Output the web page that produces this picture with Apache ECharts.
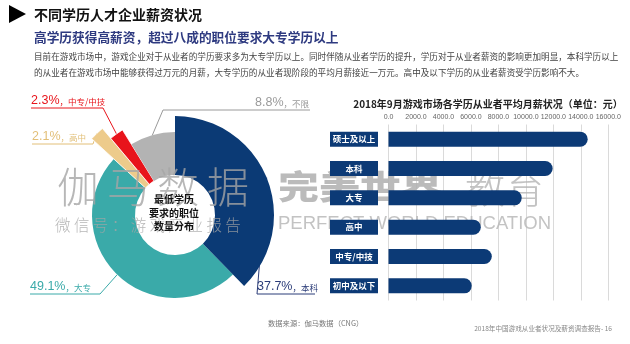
<!DOCTYPE html>
<html><head><meta charset="utf-8">
<script src="https://cdn.jsdelivr.net/npm/echarts@6/dist/echarts.min.js"></script>
<style>html,body{margin:0;padding:0;background:#fff}#c{width:630px;height:344px}</style>
</head><body><div id="c"></div>
<script>
// ---- data ----
const eduNames = ['本科', '大专', '高中', '中专/中技', '不限'];
const eduShare = [37.7, 49.1, 2.1, 2.3, 8.8];
const salaryCats = ['硕士及以上', '本科', '大专', '高中', '中专/中技', '初中及以下'];
const salaryVals = [14500, 11950, 9700, 6720, 7520, 6060];
const salaryTicks = [0, 2000, 4000, 6000, 8000, 10000, 12000, 14000, 16000];

// ---- styles ----
const CJK = '"Noto Sans CJK SC", sans-serif';
const NUM = '"Liberation Sans", "Noto Sans CJK SC", sans-serif';
const NAVY = '#0C3A76';
const sliceColors = ['#0B3A75', '#3AAAA9', '#EDCB8B', '#E8141B', '#B3B3B3'];
const sliceOuter = [99, 83, 113, 100, 83];
const labelCfg = [
  {x: 257, y: 293, align: 'left', elbow: [257, 294], end: [315, 294], color: '#2B3C78'},
  {x: 30, y: 293, align: 'left', elbow: [100, 294], end: [30, 294], color: '#3AAAA9'},
  {x: 32, y: 143, align: 'left', elbow: [93, 144], end: [32, 144], color: '#E2BF78'},
  {x: 31, y: 107, align: 'left', elbow: [103, 108], end: [31, 108], color: '#E8141B'},
  {x: 309, y: 109, align: 'right', elbow: [163, 110], end: [310, 110], color: '#9A9A9A'}
];

const pieSeries = eduNames.map((nm, i) => ({
  type: 'pie',
  silent: true,
  center: [175, 215],
  radius: [40, sliceOuter[i]],
  startAngle: 90,
  clockwise: true,
  avoidLabelOverlap: false,
  animation: false,
  z: i === 0 ? 3 : 2,
  data: eduNames.map((n, j) => ({
    name: n,
    value: eduShare[j],
    itemStyle: j === i ? {color: sliceColors[j], borderColor: (j === 2 || j === 3) ? '#fff' : sliceColors[j], borderWidth: (j === 2 || j === 3) ? 0.8 : 0}
                       : {color: 'rgba(0,0,0,0)'},
    label: {show: j === i},
    labelLine: {show: j === i}
  })),
  label: {
    position: 'outside',
    formatter: p => '{v|' + p.value + '%}{s|，' + p.name + '}',
    rich: {
      v: {fontSize: 12.5, fontFamily: NUM, color: labelCfg[i].color},
      s: {fontSize: 8.5, fontFamily: CJK, color: labelCfg[i].color, padding: [2, 0, 0, 0]}
    }
  },
  labelLine: {show: true, length: 10, length2: 10, lineStyle: {color: labelCfg[i].color, width: 1}},
  labelLayout: function (params) {
    if (params.dataIndex !== i) return {};
    const c = labelCfg[i];
    const p0 = params.labelLinePoints ? params.labelLinePoints[0] : c.elbow;
    return {
      x: c.x, y: c.y, align: c.align, verticalAlign: 'bottom',
      labelLinePoints: [p0, c.elbow, c.end]
    };
  }
}));

const chart = echarts.init(document.getElementById('c'), null, {renderer: 'canvas'});

function wm(text, x, y, size, weight, color, z, extra) {
  const o = {type: 'text', z: z, silent: true, x: x, y: y,
    style: {text: text, fontSize: size, fontWeight: weight, fontFamily: CJK, fill: color, textVerticalAlign: 'middle'}};
  return Object.assign(o, extra || {});
}
const wmColor = 'rgba(165,165,165,0.8)';
const wmChars = ['伽', '马', '数', '据'];

const option = {
  backgroundColor: '#fff',
  animation: false,
  title: {
    text: '2018年9月游戏市场各学历从业者平均月薪状况（单位：元）',
    left: 483, top: 94, textAlign: 'center',
    textStyle: {fontSize: 10, fontWeight: 'bold', color: '#222', fontFamily: CJK}
  },
  grid: {left: 388.5, right: 21.7, top: 124.5, bottom: 43.5, containLabel: false},
  xAxis: {
    type: 'value', position: 'top', min: 0, max: 16000, interval: 2000,
    axisLine: {show: false}, axisTick: {show: false},
    axisLabel: {fontSize: 7, color: '#666', margin: 4, fontFamily: NUM, formatter: v => v.toFixed(1)},
    splitLine: {show: true, lineStyle: {color: '#DADADA', width: 1}}
  },
  yAxis: {
    type: 'category', data: salaryCats, inverse: true, z: 20,
    axisLine: {show: false}, axisTick: {show: false},
    axisLabel: {
      margin: 10.5,
      formatter: v => '{b|' + v + '}',
      rich: {b: {width: 48, height: 15, lineHeight: 15, align: 'center', backgroundColor: NAVY,
        color: '#fff', fontSize: 8.5, fontWeight: 'bold', fontFamily: CJK}}
    }
  },
  series: [{
    type: 'bar', data: salaryVals, barWidth: 15, silent: true, z: 20,
    itemStyle: {color: NAVY, borderRadius: [0, 7.5, 7.5, 0]}
  }].concat(pieSeries),
  graphic: [
    {type: 'polygon', shape: {points: [[9, 5], [26, 14], [9, 23]]}, style: {fill: '#000'}},
    {type: 'text', x: 34, y: 15, style: {text: '不同学历人才企业薪资状况', fontSize: 14, fontWeight: 'bold', fill: '#111', fontFamily: CJK, textVerticalAlign: 'middle'}},
    {type: 'text', x: 34, y: 37, style: {text: '高学历获得高薪资，超过八成的职位要求大专学历以上', fontSize: 12.7, fontWeight: 'bold', fill: '#2E3A80', fontFamily: CJK, textVerticalAlign: 'middle'}},
    {type: 'text', x: 34, y: 57, style: {text: '目前在游戏市场中，游戏企业对于从业者的学历要求多为大专学历以上。同时伴随从业者学历的提升，学历对于从业者薪资的影响更加明显，本科学历以上', fontSize: 8.6, fill: '#444', fontFamily: CJK, textVerticalAlign: 'middle'}},
    {type: 'text', x: 34, y: 73, style: {text: '的从业者在游戏市场中能够获得过万元的月薪，大专学历的从业者现阶段的平均月薪接近一万元。高中及以下学历的从业者薪资受学历影响不大。', fontSize: 8.6, fill: '#444', fontFamily: CJK, textVerticalAlign: 'middle'}},
    {type: 'text', x: 174, y: 213, z: 110, style: {text: '最低学历\n要求的职位\n数量分布', fontSize: 10, lineHeight: 13.5, fontWeight: 'bold', fill: '#111', fontFamily: CJK, textAlign: 'center', textVerticalAlign: 'middle'}},
    {type: 'text', x: 268, y: 323, style: {text: '数据来源：伽马数据（CNG）', fontSize: 7.3, fill: '#777', fontFamily: CJK, textVerticalAlign: 'middle'}},
    {type: 'text', x: 612, y: 328, style: {text: '2018年中国游戏从业者状况及薪资调查报告- 16', fontSize: 6.6, fill: '#888', fontFamily: CJK, textAlign: 'right', textVerticalAlign: 'middle'}}
  ].concat(wmChars.map((ch, k) => wm(ch, 57 + k * 50, 187, 42, 300, wmColor, 100)))
   .concat([
     wm('完美世界', 278, 187, 41, 900, 'rgba(175,175,175,0.85)', 1, {scaleY: 0.8}),
     wm('教育', 465, 188, 40, 200, 'rgba(180,180,180,0.8)', 1),
     wm('微 信 号 ： 游 戏 产 业 报 告', 55, 225, 15.5, 300, wmColor, 100),
     {type: 'text', z: 1, silent: true, x: 278, y: 224, style: {text: 'PERFECT WORLD EDUCATION', fontSize: 18.5, fontFamily: NUM, fill: 'rgba(185,185,185,0.85)', textVerticalAlign: 'middle'}}
   ])
};
chart.setOption(option);
</script></body></html>
